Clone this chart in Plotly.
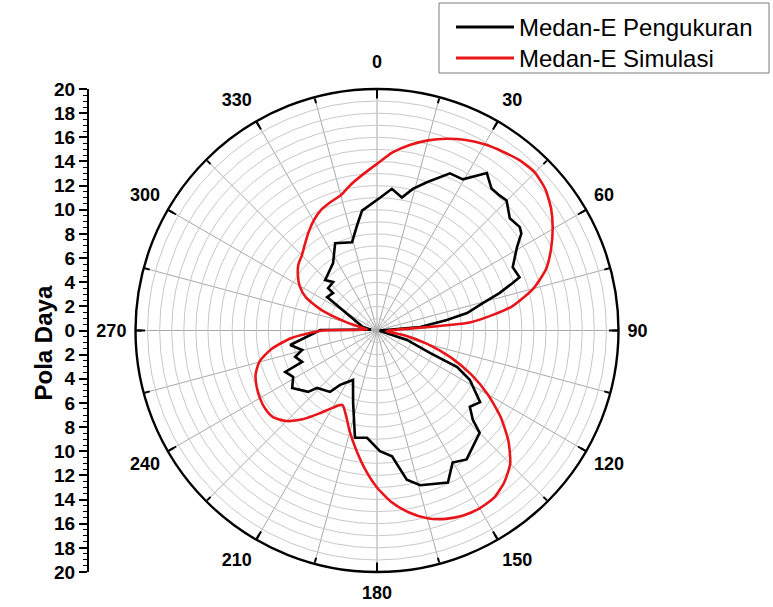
import plotly.graph_objects as go

# ---------------- data ----------------
series_names = ["Medan-E Pengukuran", "Medan-E Simulasi"]

theta_sim = [0, 5, 10, 15, 20, 25, 30, 35, 40, 45, 50, 55, 60, 65, 70, 75, 80, 85,
             90, 95, 100, 105, 110, 115, 120, 125, 130, 135, 140, 145, 150, 155, 160,
             165, 170, 175, 180, 185, 190, 195, 200, 205, 210, 215, 220, 225, 230, 235,
             240, 245, 250, 255, 260, 265, 270, 275, 280, 285, 290, 295, 300, 305, 310,
             315, 320, 325, 330, 335, 340, 345, 350, 355, 360]
r_sim = [13.8, 14.8, 15.6, 16.3, 16.9, 17.4, 17.8, 18.1, 18.4, 18.5, 18.2, 17.6, 16.8,
         15.9, 14.9, 13.4, 11.3, 7.8, 1.0, 0.8, 2.3, 4.3, 6.5, 8.6, 10.6, 12.5, 14.2,
         15.6, 16.4, 16.9, 17.0, 16.9, 16.6, 16.1, 15.3, 14.3, 13.0, 11.5, 10.0, 8.7,
         7.5, 6.8, 7.4, 8.4, 9.6, 10.6, 11.2, 11.3, 11.2, 11.0, 10.7, 10.1, 8.9, 7.1,
         4.5, 0.8, 1.2, 2.6, 4.8, 6.5, 7.4, 8.0, 8.5, 8.8, 9.3, 9.9, 10.5, 11.0, 11.3,
         11.6, 12.3, 13.0, 13.8]

theta_meas = [1.3, 6.0, 10.6, 14.2, 18.6, 24.9, 29.6, 34.9, 38.9, 42.2, 44.9, 49.8,
              54.1, 56.1, 59.2, 65.0, 69.5, 70.7, 73.0, 75.5, 79.0, 81.5, 85.3, 90.0,
              100.0, 107.6, 113.0, 114.5, 118.0, 124.8, 129.4, 133.0, 134.9, 145.2,
              150.2, 155.0, 164.4, 168.7, 173.2, 178.6, 185.3, 191.6, 198.3, 205.9,
              214.2, 217.4, 226.2, 228.3, 235.9, 241.0, 245.7, 247.2, 252.1, 255.4,
              260.5, 270.5, 278.0, 284.0, 303.8, 310.4, 310.9, 317.8, 314.2, 326.9,
              334.4, 344.2, 349.3, 352.9, 361.3]
r_meas = [11.0, 11.8, 11.2, 12.1, 12.95, 14.35, 14.4, 15.9, 15.1, 15.1, 15.2, 14.4,
          14.6, 14.4, 13.5, 12.4, 12.6, 11.9, 10.6, 9.05, 7.6, 5.85, 3.6, 0.3,
          0.3, 2.6, 4.8, 7.3, 8.7, 10.4, 9.95, 10.85, 12.0, 13.0,
          12.6, 13.9, 13.3, 12.6, 10.5, 10.0, 8.92, 9.07, 6.3, 4.55,
          5.44, 6.4, 6.87, 7.64, 8.48, 7.94, 8.34, 6.72, 7.12, 6.4,
          7.29, 4.7, 0.5, 1.2, 4.97, 4.78, 5.36, 5.41, 5.99, 6.66,
          8.02, 7.6, 8.87, 10.0, 11.0]

angle_ticks = list(range(0, 360, 30))
angle_labels = [str(a) for a in angle_ticks]
angle_minor = list(range(0, 360, 15))
radial_ticks = list(range(-20, 21, 2))
radial_labels = [str(abs(v)) for v in radial_ticks]

# ---------------- layout helpers ----------------
W, H = 773, 607
def px(x):
    return x / W
def py(y):
    return 1 - y / H

FONT = "Arial, Liberation Sans, sans-serif"
dom_x = [px(134), px(620)]
dom_y = [py(572), py(89)]
dom_y_up = [py(572 - 8), py(89 - 8)]
RED = "#e8161b"

upper = [(t, l) for t, l in zip(angle_ticks, angle_labels) if t <= 60 or t >= 300]
lower = [(t, l) for t, l in zip(angle_ticks, angle_labels) if 60 < t < 300]

fig = go.Figure()

fig.add_trace(go.Scatterpolar(r=r_meas, theta=theta_meas, mode="lines",
                              line=dict(color="black", width=2.6),
                              name=series_names[0], subplot="polar",
                              showlegend=False))
fig.add_trace(go.Scatterpolar(r=r_sim, theta=theta_sim, mode="lines",
                              line=dict(color=RED, width=2.6, shape="spline", smoothing=0.6),
                              name=series_names[1], subplot="polar",
                              showlegend=False))
for sp in ["polar2", "polar3", "polar4"]:
    fig.add_trace(go.Scatterpolar(r=[0], theta=[0], mode="markers",
                                  marker=dict(opacity=0), subplot=sp,
                                  showlegend=False, hoverinfo="skip"))
fig.add_trace(go.Scatter(x=[0, 0], y=[-20, 20], mode="markers", marker=dict(opacity=0),
                         xaxis="x", yaxis="y", showlegend=False, hoverinfo="skip"))

common_radial = dict(range=[0, 20], showticklabels=False, ticks="", showline=False)
label_font = dict(family=FONT, size=18, color="black", weight="bold")

def label_polar(dom, group):
    return dict(
        domain=dict(x=dom_x, y=dom), bgcolor="rgba(0,0,0,0)",
        radialaxis=dict(**common_radial, showgrid=False, visible=False),
        angularaxis=dict(rotation=90, direction="clockwise", tickmode="array",
                         tickvals=[g[0] for g in group], ticktext=[g[1] for g in group],
                         ticks="outside", ticklen=5, tickcolor="rgba(0,0,0,0)",
                         tickfont=label_font, showgrid=False, showline=False),
    )

fig.update_layout(
    template="none",
    width=W, height=H, margin=dict(l=0, r=0, t=0, b=0, pad=0, autoexpand=False),
    paper_bgcolor="white", plot_bgcolor="white", showlegend=False,
    polar=dict(
        domain=dict(x=dom_x, y=dom_y), bgcolor="white",
        radialaxis=dict(**common_radial, tickmode="linear", tick0=0, dtick=1,
                        showgrid=True, gridcolor="#c8c8c8", gridwidth=0.8),
        angularaxis=dict(rotation=90, direction="clockwise", tickmode="array",
                         tickvals=angle_minor, showticklabels=False,
                         ticks="inside", ticklen=5, tickwidth=1.5, tickcolor="black",
                         showgrid=True, gridcolor="#a8a8a8", gridwidth=0.8,
                         showline=True, linecolor="black", linewidth=2.4),
    ),
    polar2=dict(
        domain=dict(x=dom_x, y=dom_y), bgcolor="rgba(0,0,0,0)",
        radialaxis=dict(**common_radial, showgrid=False, visible=False),
        angularaxis=dict(rotation=90, direction="clockwise", tickmode="array",
                         tickvals=angle_ticks, showticklabels=False,
                         ticks="inside", ticklen=9, tickwidth=2, tickcolor="black",
                         showgrid=False, showline=False),
    ),
    polar3=label_polar(dom_y_up, upper),
    polar4=label_polar(dom_y, lower),
    xaxis=dict(domain=[0, px(88)], visible=False, range=[-1, 1], fixedrange=True,
               automargin=False),
    yaxis=dict(domain=dom_y, range=[-20, 20], anchor="free", position=px(88), side="left",
               automargin=False,
               tickmode="array", tickvals=radial_ticks, ticktext=radial_labels,
               ticks="outside", ticklen=8, tickwidth=1.5, tickcolor="black",
               minor=dict(tickmode="linear", tick0=0, dtick=0.5, ticks="outside",
                          ticklen=4, tickwidth=1, tickcolor="black", showgrid=False),
               showline=True, linecolor="black", linewidth=2,
               showgrid=False, zeroline=False,
               tickfont=dict(family=FONT, size=19, color="black", weight="bold")),
)

# y-axis title
fig.add_annotation(text="Pola Daya", x=px(27), y=py(343), xref="paper", yref="paper",
                   textangle=-90, showarrow=False,
                   font=dict(family=FONT, size=24, color="black", weight="bold"))

# custom legend
fig.add_shape(type="rect", xref="paper", yref="paper", x0=px(439), x1=px(769),
              y0=py(73), y1=py(3), line=dict(color="#7a7a7a", width=1), fillcolor="white")
legend_colors = ["black", RED]
legend_y = [27, 58]
for name, col, yy in zip(series_names, legend_colors, legend_y):
    fig.add_shape(type="line", xref="paper", yref="paper", x0=px(456), x1=px(514),
                  y0=py(yy), y1=py(yy), line=dict(color=col, width=3))
    fig.add_annotation(text=name, x=px(517), y=py(yy), xref="paper", yref="paper",
                       xanchor="left", yanchor="middle", showarrow=False,
                       font=dict(family=FONT, size=24, color="black"))

fig.write_html("out.html")
